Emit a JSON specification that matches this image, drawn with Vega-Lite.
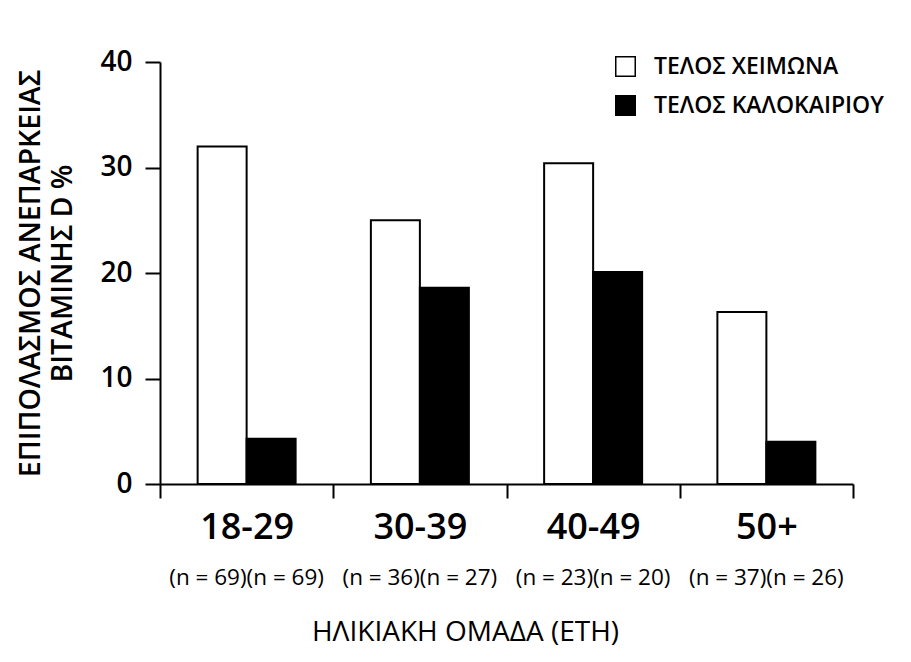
{
  "$schema": "https://vega.github.io/schema/vega-lite/v6.json",
  "width": 693,
  "height": 422,
  "autosize": {"type": "none"},
  "padding": {"left": 160, "top": 62, "right": 58, "bottom": 178},
  "background": "white",
  "config": {"view": {"stroke": null}, "font": "Open Sans"},
  "data": {
    "values": [
      {"group": "18-29", "season": "ΤΕΛΟΣ ΧΕΙΜΩΝΑ", "value": 32.0},
      {"group": "18-29", "season": "ΤΕΛΟΣ ΚΑΛΟΚΑΙΡΙΟΥ", "value": 4.3},
      {"group": "30-39", "season": "ΤΕΛΟΣ ΧΕΙΜΩΝΑ", "value": 25.0},
      {"group": "30-39", "season": "ΤΕΛΟΣ ΚΑΛΟΚΑΙΡΙΟΥ", "value": 18.6},
      {"group": "40-49", "season": "ΤΕΛΟΣ ΧΕΙΜΩΝΑ", "value": 30.4},
      {"group": "40-49", "season": "ΤΕΛΟΣ ΚΑΛΟΚΑΙΡΙΟΥ", "value": 20.1},
      {"group": "50+", "season": "ΤΕΛΟΣ ΧΕΙΜΩΝΑ", "value": 16.3},
      {"group": "50+", "season": "ΤΕΛΟΣ ΚΑΛΟΚΑΙΡΙΟΥ", "value": 4.0}
    ]
  },
  "layer": [
    {
      "mark": {"type": "bar", "stroke": "black", "strokeWidth": 2},
      "encoding": {
        "x": {
          "field": "group",
          "type": "nominal",
          "sort": ["18-29", "30-39", "40-49", "50+"],
          "scale": {"paddingInner": 0, "paddingOuter": 0},
          "axis": {
            "title": null,
            "labelAngle": 0,
            "tickBand": "extent",
            "domainColor": "black",
            "domainWidth": 2,
            "tickColor": "black",
            "tickWidth": 2,
            "tickSize": 14,
            "labelFontSize": 36,
            "labelFontWeight": 600,
            "labelColor": "black",
            "labelPadding": 12
          }
        },
        "xOffset": {
          "field": "season",
          "sort": ["ΤΕΛΟΣ ΧΕΙΜΩΝΑ", "ΤΕΛΟΣ ΚΑΛΟΚΑΙΡΙΟΥ"],
          "scale": {"paddingInner": 0, "paddingOuter": 0.768}
        },
        "y": {
          "field": "value",
          "type": "quantitative",
          "scale": {"domain": [0, 40]},
          "axis": {
            "values": [0, 10, 20, 30, 40],
            "grid": false,
            "tickSize": 15,
            "tickWidth": 2,
            "tickColor": "black",
            "domainWidth": 2,
            "domainColor": "black",
            "labelFontSize": 28,
            "labelFontWeight": 600,
            "labelColor": "black",
            "labelPadding": 13,
            "title": ["ΕΠΙΠΟΛΑΣΜΟΣ ΑΝΕΠΑΡΚΕΙΑΣ", "ΒΙΤΑΜΙΝΗΣ D %"],
            "titleFontSize": 28.5,
            "titleFontWeight": 600,
            "titleColor": "black",
            "titleLineHeight": 32,
            "titlePadding": 22
          }
        },
        "fill": {
          "field": "season",
          "type": "nominal",
          "scale": {"domain": ["ΤΕΛΟΣ ΧΕΙΜΩΝΑ", "ΤΕΛΟΣ ΚΑΛΟΚΑΙΡΙΟΥ"], "range": ["white", "black"]},
          "legend": {
            "title": null,
            "orient": "none",
            "legendX": 454,
            "legendY": -7,
            "padding": 0,
            "symbolType": "square",
            "symbolSize": 380,
            "symbolStrokeColor": "black",
            "symbolStrokeWidth": 1.5,
            "labelFontSize": 23,
            "labelFontWeight": 600,
            "labelColor": "black",
            "labelOffset": 17,
            "labelLimit": 400,
            "rowPadding": 12
          }
        }
      }
    },
    {
      "mark": {"type": "bar", "opacity": 0},
      "encoding": {
        "x": {
          "field": "group",
          "type": "nominal",
          "sort": ["18-29", "30-39", "40-49", "50+"],
          "scale": {"paddingInner": 0, "paddingOuter": 0},
          "axis": {
            "orient": "bottom",
            "offset": 74,
            "domain": false,
            "ticks": false,
            "tickSize": 0,
            "labelAngle": 0,
            "labelPadding": 8,
            "labelFontSize": 22.5,
            "labelFontWeight": 500,
            "labelColor": "black",
            "labelExpr": "{'18-29': '(n = 69)(n = 69)', '30-39': '(n = 36)(n = 27)', '40-49': '(n = 23)(n = 20)', '50+': '(n = 37)(n = 26)'}[datum.value]",
            "title": "ΗΛΙΚΙΑΚΗ ΟΜΑΔΑ (ΕΤΗ)",
            "titleFontSize": 28,
            "titleFontWeight": "normal",
            "titleColor": "black",
            "titlePadding": 30,
            "titleX": 305,
            "titleAlign": "center"
          }
        }
      }
    }
  ],
  "resolve": {"axis": {"x": "independent"}}
}
